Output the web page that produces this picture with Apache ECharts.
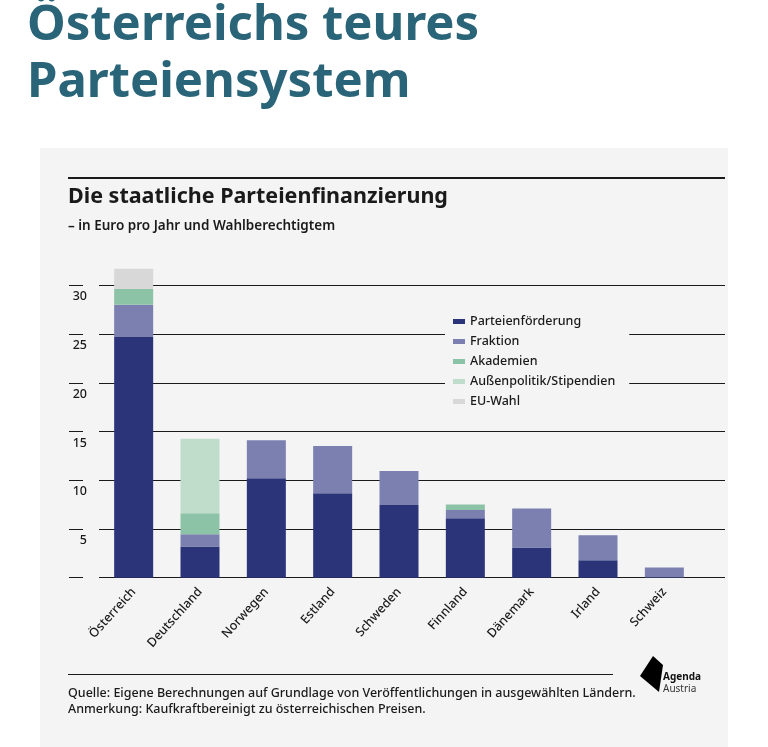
<!DOCTYPE html>
<html><head><meta charset="utf-8">
<script src="https://cdn.jsdelivr.net/npm/echarts@6/dist/echarts.min.js"></script>
<style>html,body{margin:0;padding:0;background:#fff}#c{width:768px;height:747px}</style>
</head><body><div id="c"></div>
<script>
const categories = ['Österreich','Deutschland','Norwegen','Estland','Schweden','Finnland','Dänemark','Irland','Schweiz'];
const parteienfoerderung = [24.7, 3.2, 10.2, 8.65, 7.45, 6.1, 3.1, 1.8, 0.05];
const fraktion = [3.3, 1.25, 3.9, 4.85, 3.5, 0.85, 4.0, 2.55, 1.0];
const akademien = [1.6, 2.15, 0, 0, 0, 0.55, 0, 0, 0];
const aussenpolitik = [0, 7.65, 0, 0, 0, 0, 0, 0, 0];
const euWahl = [2.1, 0, 0, 0, 0, 0, 0, 0, 0];
const yTicks = [0, 5, 10, 15, 20, 25, 30];

const F = '"Noto Sans", sans-serif';
const names = ['Parteienförderung','Fraktion','Akademien','Außenpolitik/Stipendien','EU-Wahl'];
const colors = ['#2b3479','#7b80b0','#8cc3a6','#c0dccb','#d8d8d8'];
const vals = [parteienfoerderung, fraktion, akademien, aussenpolitik, euWahl];

const chart = echarts.init(document.getElementById('c'));
chart.setOption({
  animation:false,
  backgroundColor:'#fff',
  graphic:[
    {type:'rect',z:-10,shape:{x:40,y:148,width:688,height:599},style:{fill:'#f4f4f4'}},
    {type:'text',left:27,top:-2,style:{text:'Österreichs teures\nParteiensystem',font:'bold 49px '+F,fill:'#2a6478',lineHeight:57}},
    {type:'rect',shape:{x:68,y:177,width:657,height:2},style:{fill:'#1a1a1a'}},
    {type:'text',left:68,top:186,style:{text:'Die staatliche Parteienfinanzierung',font:'bold 21.5px '+F,fill:'#1a1a1a'}},
    {type:'text',left:68,top:219,style:{text:'– in Euro pro Jahr und Wahlberechtigtem',font:'600 13.5px '+F,fill:'#1a1a1a'}},
    {type:'rect',shape:{x:68,y:674,width:545,height:1},style:{fill:'#1a1a1a'}},
    {type:'text',left:68,top:685,style:{text:'Quelle: Eigene Berechnungen auf Grundlage von Veröffentlichungen in ausgewählten Ländern.\nAnmerkung: Kaufkraftbereinigt zu österreichischen Preisen.',font:'500 12.5px '+F,fill:'#1a1a1a',lineHeight:16}},
    {type:'polygon',shape:{points:[[653,656],[663,665],[659,692],[640,676]]},style:{fill:'#000'}},
    {type:'text',left:663,top:672,style:{text:'Agenda',font:'bold 10px '+F,fill:'#111'}},
    {type:'text',left:663,top:684,style:{text:'Austria',font:'10px '+F,fill:'#333'}}
  ],
  legend:{orient:'vertical',left:445,top:309,itemWidth:12,itemHeight:5,itemGap:7,
    backgroundColor:'#f4f4f4',padding:[6,14,6,8],
    textStyle:{fontFamily:F,fontSize:12.5,fontWeight:500,color:'#1a1a1a'},data:names,icon:'rect'},
  grid:[
    {left:99,right:43,top:285.3,bottom:169.3},
    {left:100.5,width:597,top:265.7,bottom:169.3}
  ],
  xAxis:[
    {gridIndex:0,type:'category',data:categories,show:false},
    {gridIndex:1,type:'category',data:categories,axisLine:{show:false},axisTick:{show:false},
     axisLabel:{rotate:48,margin:12,fontFamily:F,fontSize:12.5,fontWeight:500,color:'#1a1a1a',interval:0}}
  ],
  yAxis:[
    {gridIndex:0,type:'value',min:0,max:30,interval:5,offset:16,
     axisLine:{show:false},axisTick:{show:true,length:14,lineStyle:{color:'#1a1a1a'}},
     axisLabel:{margin:-4,verticalAlign:'top',padding:[5,0,0,0],fontFamily:F,fontSize:12.5,fontWeight:500,color:'#1a1a1a',
       formatter:v=>yTicks.includes(v)&&v>0?String(v):''},
     splitLine:{lineStyle:{color:'#1a1a1a',width:1}}},
    {gridIndex:1,type:'value',min:0,max:32,show:false,splitLine:{show:false}}
  ],
  series:names.map((n,i)=>({name:n,type:'bar',stack:'s',xAxisIndex:1,yAxisIndex:1,barWidth:39,
    itemStyle:{color:colors[i]},data:vals[i]}))
});
</script></body></html>
